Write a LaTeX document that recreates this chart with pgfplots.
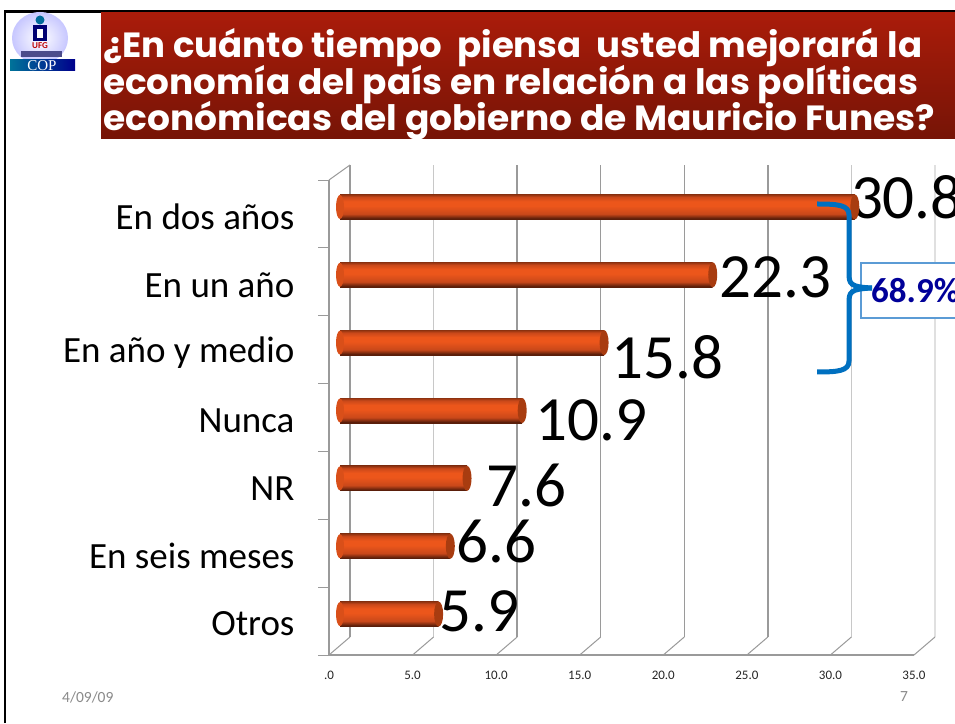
\documentclass[border=0pt]{standalone}
\usepackage{pgfplots}
\pgfplotsset{compat=1.18}
\usepackage{fontspec}
\setmainfont{Carlito}
\newfontfamily\titlefont{Poppins}
\definecolor{barred}{HTML}{EC561B}
\definecolor{bardark}{HTML}{5A1E0A}
\definecolor{barlow}{HTML}{C9481A}
\definecolor{bartop}{HTML}{8E3210}
\definecolor{capcol}{HTML}{A83C10}
\definecolor{gridd}{HTML}{9A9A9A}
\definecolor{gridl}{HTML}{C8C8C8}
\definecolor{gridx}{HTML}{E0E0E0}
\definecolor{bracecol}{HTML}{0070C0}
\definecolor{boxcol}{HTML}{5B9BD5}
\definecolor{pctcol}{HTML}{000099}
\definecolor{footcol}{HTML}{8A8A8A}
\definecolor{bandtop}{HTML}{AA1C0A}
\definecolor{bandbot}{HTML}{761406}
\tikzset{lab/.style={anchor=west,inner sep=0pt,font=\fontsize{63}{63}\selectfont,text=black}}
\pgfdeclareverticalshading{cyl}{100bp}{
  color(0bp)=(bardark);
  color(27bp)=(bardark);
  color(36bp)=(barlow);
  color(52bp)=(barred);
  color(61bp)=(barred);
  color(70bp)=(barlow);
  color(75bp)=(bartop);
  color(100bp)=(bartop)}
\pgfdeclareplotmark{capright}{%
  \pgfpathellipse{\pgfpointorigin}{\pgfqpoint{4.5pt}{0pt}}{\pgfqpoint{0pt}{12.5pt}}\pgfusepathqfill}
\pgfdeclareplotmark{capleft}{%
  \pgfpathellipse{\pgfpointorigin}{\pgfqpoint{4pt}{0pt}}{\pgfqpoint{0pt}{12pt}}\pgfusepathqfill}
\pgfplotsset{cylbar/.style={xbar,bar width=25pt,bar shift=0pt,draw=none,shade,shading=cyl}}
\begin{document}
\begin{tikzpicture}[x=1pt,y=1pt]
\useasboundingbox (0,0) rectangle (955,723);
\clip (0,0) rectangle (955,723);
\fill[white] (0,0) rectangle (955,723);
% page frame
\draw[black,line width=2.5pt] (5,0) -- (5,711.5) -- (955,711.5);
% title band
\shade[top color=bandtop, bottom color=bandbot] (101,584) rectangle (955,710);
\foreach \yy/\w/\t in {
  665/819/{¿En cuánto tiempo\ \ piensa\ \ usted mejorará la},
  628/815/{economía del país en relación a las políticas},
  592/832/{económicas del gobierno de Mauricio Funes?}}{
  \node[anchor=base west,inner sep=0pt,text=white] at (103,\yy)
    {\resizebox{\w pt}{\height}{\titlefont\bfseries\fontsize{35}{35}\selectfont\t}};
}
% logo
\shade[inner color=white,outer color=blue!22!white] (40,685) ellipse (28 and 26);
\fill[blue!30!cyan!60!black] (40,703) circle (4.5);
\fill[blue!45!black] (33,682) rectangle (47,698);
\fill[white] (37,685) rectangle (43,694);
\node[text=red!75!black,font=\bfseries\fontsize{9}{9}\selectfont,inner sep=0pt] at (40,677) {UFG};
\fill[blue!35!black!70!white] (21,666) rectangle (62,672);
\shade[left color=blue!25!cyan!60!black,right color=blue!55!black] (10,652) rectangle (75,663);
\node[text=white,inner sep=0pt,font=\fontspec{Liberation Serif}\fontsize{15}{15}\selectfont] at (42,657.5) {COP};
% back wall
\begin{axis}[at={(350pt,86pt)},anchor=south west,scale only axis,width=585pt,height=472pt,
  xmin=0,xmax=35,ymin=0,ymax=7,hide axis,clip=false]
\addplot[gridd,line width=1.6pt] coordinates {(0,0)(0,7)};
\addplot[gridl,line width=1.4pt] coordinates {(5,0)(5,7)};
\addplot[gridd,line width=1.4pt] coordinates {(10,0)(10,7)};
\addplot[gridd,line width=1.4pt] coordinates {(15,0)(15,7)};
\addplot[gridd,line width=1.4pt] coordinates {(20,0)(20,7)};
\addplot[gridd,line width=1.4pt] coordinates {(25,0)(25,7)};
\addplot[gridl,line width=1.4pt] coordinates {(30,0)(30,7)};
\addplot[gridx,line width=1.4pt] coordinates {(35,0)(35,7)};
\end{axis}
% floor diagonals and top of the wall
\foreach \k in {0,...,7}{
  \draw[gridd,line width=1pt] ({329+83.57*\k},68) -- ({350+83.57*\k},86);
}
\draw[gridd,line width=1pt] (329,543) -- (350,558);
% front axis
\begin{axis}[at={(329pt,68pt)},anchor=south west,scale only axis,width=585pt,height=475pt,
  xmin=0,xmax=35,ymin=0,ymax=7,
  axis x line=bottom,axis y line=left,
  axis line style={gridd,line width=2pt,-},
  xtick={0,5,...,35},xticklabels={.0,5.0,10.0,15.0,20.0,25.0,30.0,35.0},
  x tick label style={font=\fontsize{13}{13}\selectfont,text=black!85,yshift=-2pt},
  xtick style={draw=none},
  ytick={0,...,7},yticklabels={},
  ytick style={gridd,line width=1pt},
  tick align=outside,major tick length=11pt,
  extra y ticks={0.5,1.5,2.5,3.5,4.5,5.5,6.5},
  extra y tick labels={Otros,En seis meses,NR,Nunca,En año y medio,En un año,En dos años},
  extra y tick style={major tick length=0pt,tick style={draw=none},
    tick label style={font=\fontsize{37}{37}\selectfont,text=black,xshift=-31pt,yshift=-3pt}},
  clip=false]
\addplot[draw=none] coordinates {(0,0)};
\end{axis}
% bars and their values
\begin{axis}[at={(340pt,75pt)},anchor=south west,scale only axis,width=585pt,height=475pt,
  xmin=0,xmax=35,ymin=0,ymax=7,hide axis,clip=false]
\addplot[only marks,mark=capleft,color=barred!92!black] coordinates
  {(0,0.5)(0,1.5)(0,2.5)(0,3.5)(0,4.5)(0,5.5)(0,6.5)};
\addplot[cylbar] coordinates {(5.9,0.5)};
\addplot[cylbar] coordinates {(6.6,1.5)};
\addplot[cylbar] coordinates {(7.6,2.5)};
\addplot[cylbar] coordinates {(10.9,3.5)};
\addplot[cylbar] coordinates {(15.8,4.5)};
\addplot[cylbar] coordinates {(22.3,5.5)};
\addplot[cylbar] coordinates {(30.8,6.5)};
\addplot[only marks,mark=capright,color=capcol] coordinates
  {(5.9,0.5)(6.6,1.5)(7.6,2.5)(10.9,3.5)(15.8,4.5)(22.3,5.5)(30.8,6.5)};
\node[lab,xshift=1pt,yshift=3pt]   at (axis cs:5.9,0.5)  {5.9};
\node[lab,xshift=6pt,yshift=5pt]   at (axis cs:6.6,1.5)  {6.6};
\node[lab,xshift=19pt,yshift=-7pt] at (axis cs:7.6,2.5)  {7.6};
\node[lab,xshift=13pt,yshift=-10pt] at (axis cs:10.9,3.5) {10.9};
\node[lab,xshift=7pt,yshift=-15pt] at (axis cs:15.8,4.5) {15.8};
\node[lab,xshift=7pt,yshift=-3pt]  at (axis cs:22.3,5.5) {22.3};
\node[lab,xshift=-4pt,yshift=10pt] at (axis cs:30.8,6.5) {30.8};
\end{axis}
% bracket and total
\draw[boxcol,line width=1.2pt,fill=white] (861,405) rectangle (970,460);
\draw[bracecol,line width=5pt] (817,519) .. controls (838,519) and (849,518) .. (849,508)
  -- (849,450) .. controls (849,439) and (850,436) .. (872,435);
\draw[bracecol,line width=5pt] (817,351) .. controls (838,351) and (849,352) .. (849,362)
  -- (849,420) .. controls (849,431) and (850,434) .. (872,435);
\node[anchor=west,inner sep=0pt,text=pctcol,font=\bfseries\fontsize{35}{35}\selectfont] at (871,432) {68.9\%};
% footer
\node[anchor=west,inner sep=0pt,text=footcol,font=\fontsize{15.5}{15.5}\selectfont] at (62,26) {4/09/09};
\node[anchor=center,inner sep=0pt,text=footcol,font=\fontsize{15.5}{15.5}\selectfont] at (904,26) {7};
\end{tikzpicture}
\end{document}
